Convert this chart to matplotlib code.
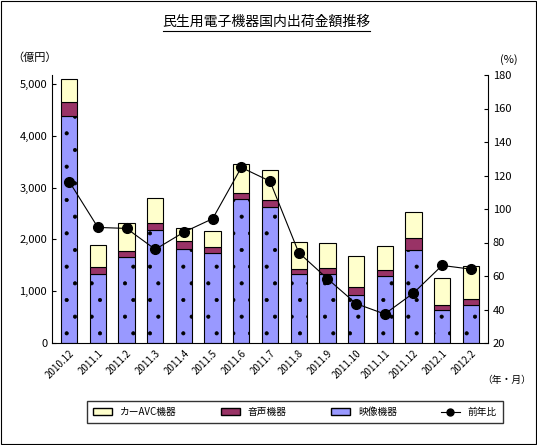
import matplotlib
matplotlib.use("Agg")
import matplotlib.pyplot as plt
import numpy as np
from matplotlib.lines import Line2D
from matplotlib.patches import Patch

plt.rcParams['font.family'] = ['Noto Sans CJK JP', 'DejaVu Sans']
plt.rcParams['hatch.color'] = '#8080e0'
plt.rcParams['hatch.linewidth'] = 0.5

months = ["2010.12","2011.1","2011.2","2011.3","2011.4","2011.5","2011.6","2011.7",
          "2011.8","2011.9","2011.10","2011.11","2011.12","2012.1","2012.2"]
video = [4390,1330,1660,2180,1815,1740,2780,2625,1330,1340,920,1285,1800,640,730]
audio_top = [4645,1475,1770,2320,1970,1855,2895,2755,1430,1440,1080,1415,2030,740,850]
total = [5100,1890,2320,2790,2215,2160,3455,3345,1945,1930,1680,1880,2535,1255,1485]
yoy = [116.4,89,88.4,75.9,86.2,94.2,124.8,116.6,74,58.4,43.5,37.3,49.8,66.3,64.1]

audio = [a - v for a, v in zip(audio_top, video)]
car = [t - a for t, a in zip(total, audio_top)]

fig = plt.figure(figsize=(5.37, 4.45), dpi=100)
ax = fig.add_axes([52/537, 1-343/445, (488-52)/537, (343-75)/445])
x = np.arange(len(months))
w = 0.57
c_video, c_audio, c_car = '#9999ff', '#993366', '#ffffcc'
ax.bar(x, video, w, color=c_video, edgecolor='black', linewidth=0.8, hatch='.', zorder=2)
ax.bar(x, audio, w, bottom=video, color=c_audio, edgecolor='black', linewidth=0.8, zorder=2)
ax.bar(x, car, w, bottom=audio_top, color=c_car, edgecolor='black', linewidth=0.8, zorder=2)
ax.set_ylim(0, 5000*(343-75)/(343-84))
ax.set_xlim(-0.6, len(months)-0.4)
ax.set_yticks(range(0, 5001, 1000))
ax.set_yticklabels([f"{v:,}" for v in range(0, 5001, 1000)], fontsize=8)
ax.set_xticks(x)
ax.set_xticklabels(months, rotation=45, ha='right', fontsize=7, rotation_mode='anchor')
ax.tick_params(direction='in', length=3)
for s in ['top', 'right']:
    ax.spines[s].set_visible(False)

ax2 = ax.twinx()
ax2.plot(x, yoy, color='black', linewidth=0.8, marker='o', markersize=7, zorder=5)
ax2.set_ylim(20, 180)
ax2.set_yticks(range(20, 181, 20))
ax2.tick_params(labelsize=8, direction='in', length=3)
for s in ['top', 'left']:
    ax2.spines[s].set_visible(False)
ax2.spines['bottom'].set_visible(False)

fig.text(266/537, 1-22/445, "民生用電子機器国内出荷金額推移", fontsize=10, va='center', ha='center')
fig.add_artist(Line2D([163/537, 370/537], [1-31/445, 1-31/445], color='black', linewidth=0.8))
fig.text(12/537, 1-58/445, "（億円）", fontsize=8, va='center')
fig.text(500/537, 1-60/445, "(%)", fontsize=8, va='center')
fig.text(482/537, 1-380/445, "（年・月）", fontsize=7, va='center')

handles = [Patch(facecolor=c_car, edgecolor='black'),
           Patch(facecolor=c_audio, edgecolor='black'),
           Patch(facecolor=c_video, edgecolor='black'),
           Line2D([], [], color='black', marker='o', markersize=5, linewidth=0.8)]
labels = ["カーAVC機器", "音声機器", "映像機器", "前年比"]
leg = fig.legend(handles, labels, loc='center', bbox_to_anchor=(295/537, 1-412/445),
                 ncol=4, fontsize=7, frameon=True, fancybox=False, edgecolor='black',
                 handlelength=2, columnspacing=4.5, borderpad=0.6)
fig.add_artist(plt.Rectangle((1/537, 1/445), 535/537, 443/445, fill=False,
                             edgecolor='black', linewidth=0.8, transform=fig.transFigure))
fig.savefig("out.png", dpi=100)
